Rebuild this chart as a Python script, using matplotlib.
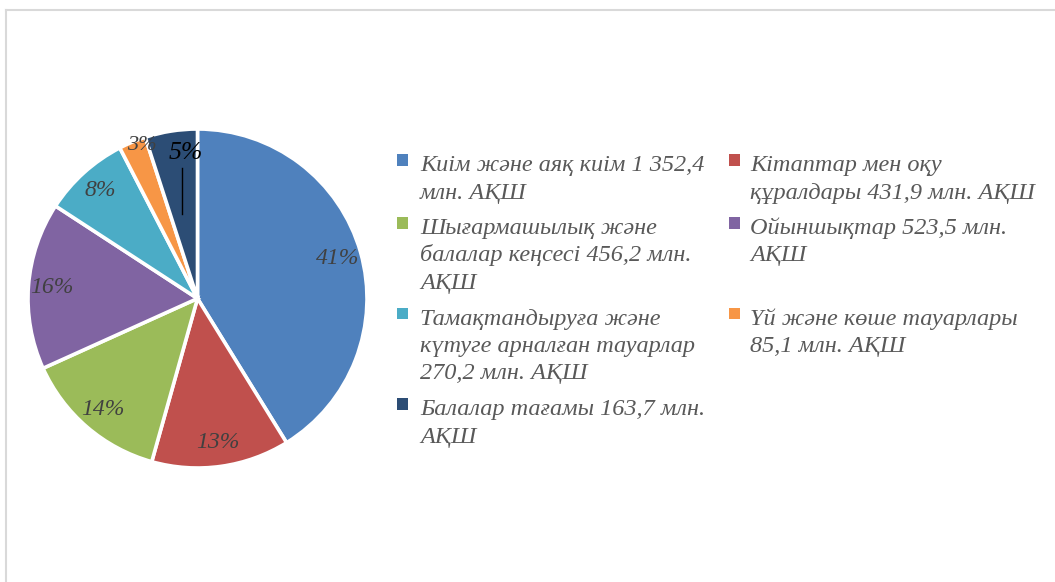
import matplotlib
matplotlib.use('Agg')
import matplotlib.pyplot as plt
from matplotlib.patches import Rectangle
from matplotlib.lines import Line2D

# ---- data ----
categories = [
    "Киім және аяқ киім",
    "Кітаптар мен оқу құралдары",
    "Шығармашылық және балалар кеңсесі",
    "Ойыншықтар",
    "Тамақтандыруға және күтуге арналған тауарлар",
    "Үй және көше тауарлары",
    "Балалар тағамы",
]
values = [1352.4, 431.9, 456.2, 523.5, 270.2, 85.1, 163.7]
legend_lines = [
    ["Киім және аяқ киім 1 352,4", "млн. АҚШ"],
    ["Кітаптар мен оқу", "құралдары 431,9 млн. АҚШ"],
    ["Шығармашылық және", "балалар кеңсесі 456,2 млн.", "АҚШ"],
    ["Ойыншықтар 523,5 млн.", "АҚШ"],
    ["Тамақтандыруға және", "күтуге арналған тауарлар", "270,2 млн. АҚШ"],
    ["Үй және көше тауарлары", "85,1 млн. АҚШ"],
    ["Балалар тағамы 163,7 млн.", "АҚШ"],
]
colors = ["#4F81BD", "#C0504D", "#9BBB59", "#8064A2", "#4BACC6", "#F79646", "#2C4D75"]

FONT = ["Liberation Serif", "DejaVu Serif"]
plt.rcParams["font.family"] = FONT

W, H = 1055, 582
fig = plt.figure(figsize=(W / 100, H / 100), dpi=100)


def fx(x):
    return x / W


def fy(y):
    return 1 - y / H


# frame border (left and top)
border = "#d9d9d9"
fig.add_artist(Line2D([fx(6), fx(6)], [0, fy(10)], color=border, lw=1.5))
fig.add_artist(Line2D([fx(6), 1], [fy(10), fy(10)], color=border, lw=1.5))

# ---- pie ----
cx, cy, r = 197.5, 298.5, 169.5
ax = fig.add_axes([fx(cx - r), fy(cy + r), 2 * r / W, 2 * r / H])
wedges, texts, autotexts = ax.pie(
    values,
    colors=colors,
    startangle=90,
    counterclock=False,
    autopct="%1.0f%%",
    pctdistance=0.86,
    wedgeprops=dict(edgecolor="white", linewidth=2.6),
    textprops=dict(fontsize=17, style="italic", color="#404040", family=FONT),
)
ax.set_xlim(-1, 1)
ax.set_ylim(-1, 1)
ax.set_aspect("equal")
ax.axis("off")

# small slices: labels moved as in the reference
autotexts[5].set_position((-0.33, 0.90))
autotexts[5].set_fontsize(16)
autotexts[6].set_position((-0.07, 0.86))
autotexts[6].set_fontsize(18.5)
autotexts[6].set_color("black")
ax.plot([-0.09, -0.09], [0.77, 0.50], color="black", lw=1)

# ---- legend (two columns, row-major) ----
col_marker_x = [402.5, 734.5]
col_text_x = [420, 750]
line_h = 27.5
gap = 8
msize = 11.5
y = 171.0
for row in range(0, len(legend_lines), 2):
    items = list(range(row, min(row + 2, len(legend_lines))))
    for k, i in enumerate(items):
        mx = col_marker_x[k]
        fig.add_artist(Rectangle((fx(mx - msize / 2), fy(y - 11 + msize / 2)),
                                 msize / W, msize / H, transform=fig.transFigure,
                                 facecolor=colors[i], edgecolor="none"))
        for j, line in enumerate(legend_lines[i]):
            fig.text(fx(col_text_x[k]), fy(y + j * line_h), line,
                     fontsize=17.5, style="italic", color="#595959",
                     ha="left", va="baseline", family=FONT)
    nl = max(len(legend_lines[i]) for i in items)
    y += nl * line_h + gap

fig.savefig("out.png", dpi=100)
